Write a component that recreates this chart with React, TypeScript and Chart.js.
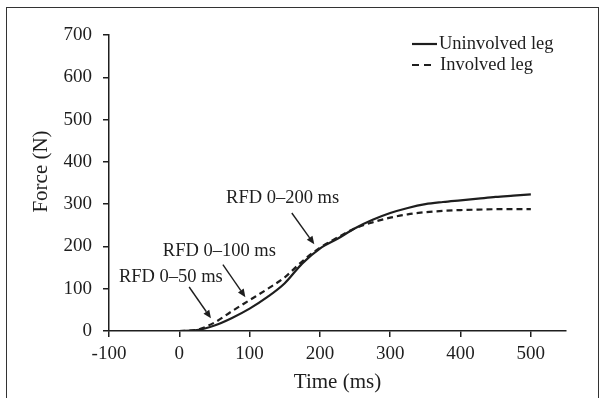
import React, { useEffect, useRef } from "react";
import { Chart, registerables } from "chart.js";

Chart.register(...registerables);

const timeMs = [0, 25, 50, 75, 100, 125, 150, 175, 200, 225, 250, 275, 300, 325, 350, 375, 400, 425, 450, 475, 500];
const uninvolvedLeg = [0, 2, 13, 31, 53, 80, 113, 160, 195, 218, 243, 263, 279, 291, 300, 305, 309, 313, 317, 320, 323];
const involvedLeg = [0, 3, 20, 47, 73, 99, 127, 165, 197, 221, 243, 257, 268, 276, 281, 284, 286, 287, 288, 288, 288];

const seriesNames = ["Uninvolved leg", "Involved leg"];

const annotationLabels = ["RFD 0–50 ms", "RFD 0–100 ms", "RFD 0–200 ms"];
const annotationTextAt = [[-12, 128], [57, 190], [147, 314]];
const arrowFrom = [[14, 104], [62, 157], [160, 279]];
const arrowTo = [[45, 30], [94, 80], [192, 205]];

const xTitle = "Time (ms)";
const yTitle = "Force (N)";

const SERIF = "'Liberation Serif', 'Times New Roman', Times, serif";
const INK = "#1e1e1e";

const overlayPlugin = {
  id: "overlay",
  afterDatasetsDraw(chart: any) {
    const { ctx, scales } = chart;
    const xs = scales.x;
    const ys = scales.y;
    ctx.save();
    ctx.fillStyle = INK;
    ctx.strokeStyle = INK;

    // annotations + arrows
    ctx.font = `18.5px ${SERIF}`;
    ctx.textAlign = "center";
    ctx.textBaseline = "middle";
    annotationLabels.forEach((label, i) => {
      const tx = xs.getPixelForValue(annotationTextAt[i][0]);
      const ty = ys.getPixelForValue(annotationTextAt[i][1]);
      ctx.fillText(label, tx, ty);
      const x1 = xs.getPixelForValue(arrowFrom[i][0]);
      const y1 = ys.getPixelForValue(arrowFrom[i][1]);
      const x2 = xs.getPixelForValue(arrowTo[i][0]);
      const y2 = ys.getPixelForValue(arrowTo[i][1]);
      const ang = Math.atan2(y2 - y1, x2 - x1);
      const headLen = 8;
      const headW = 3.5;
      const bx = x2 - headLen * Math.cos(ang);
      const by = y2 - headLen * Math.sin(ang);
      ctx.lineWidth = 1.4;
      ctx.setLineDash([]);
      ctx.beginPath();
      ctx.moveTo(x1, y1);
      ctx.lineTo(bx, by);
      ctx.stroke();
      ctx.beginPath();
      ctx.moveTo(x2, y2);
      ctx.lineTo(bx + headW * Math.sin(ang), by - headW * Math.cos(ang));
      ctx.lineTo(bx - headW * Math.sin(ang), by + headW * Math.cos(ang));
      ctx.closePath();
      ctx.fill();
    });

    // legend
    const lx = 412;
    const rows = [44, 65];
    ctx.textAlign = "left";
    chart.data.datasets.forEach((ds: any, i: number) => {
      ctx.lineWidth = 2.2;
      ctx.setLineDash(i === 0 ? [] : [7, 5]);
      ctx.beginPath();
      ctx.moveTo(lx, rows[i]);
      ctx.lineTo(lx + (i === 0 ? 25 : 20), rows[i]);
      ctx.stroke();
      ctx.setLineDash([]);
      ctx.fillText(ds.label, lx + (i === 0 ? 27 : 28), rows[i]);
    });

    // y title
    ctx.font = `21px ${SERIF}`;
    ctx.textAlign = "center";
    ctx.translate(41.5, 171.5);
    ctx.rotate(-Math.PI / 2);
    ctx.fillText(yTitle, 0, 0);
    ctx.restore();
  },
};

export default function App() {
  const canvasRef = useRef<HTMLCanvasElement | null>(null);

  useEffect(() => {
    if (!canvasRef.current) return;
    const chart = new Chart(canvasRef.current, {
      type: "line",
      data: {
        datasets: [
          {
            label: seriesNames[0],
            data: timeMs.map((t, i) => ({ x: t, y: uninvolvedLeg[i] })),
            borderColor: INK,
            borderWidth: 2.2,
            pointRadius: 0,
            cubicInterpolationMode: "monotone",
            fill: false,
          },
          {
            label: seriesNames[1],
            data: timeMs.map((t, i) => ({ x: t, y: involvedLeg[i] })),
            borderColor: INK,
            borderWidth: 2.2,
            borderDash: [6, 4],
            pointRadius: 0,
            cubicInterpolationMode: "monotone",
            fill: false,
          },
        ],
      },
      options: {
        responsive: false,
        animation: false,
        layout: { padding: { top: 35, right: 40, left: 0, bottom: 3 } },
        plugins: {
          legend: { display: false },
          tooltip: { enabled: false },
        },
        scales: {
          x: {
            type: "linear",
            min: -100,
            max: 550,
            afterFit: (s: any) => {
              s.height = 64;
            },
            ticks: {
              stepSize: 100,
              includeBounds: false,
              color: INK,
              padding: 6,
              maxRotation: 0,
              font: { family: SERIF, size: 19 },
            },
            grid: { drawOnChartArea: false, drawTicks: true, tickLength: 6, color: INK, lineWidth: 1.5 },
            border: { display: true, color: INK, width: 1.5 },
            title: {
              display: true,
              text: xTitle,
              color: INK,
              padding: { top: 0, bottom: 0 },
              font: { family: SERIF, size: 21 },
            },
          },
          y: {
            type: "linear",
            min: 0,
            max: 700,
            afterFit: (s: any) => {
              s.width = 109;
            },
            ticks: {
              stepSize: 100,
              color: INK,
              padding: 11,
              font: { family: SERIF, size: 19 },
            },
            grid: { drawOnChartArea: false, drawTicks: true, tickLength: 6, color: INK, lineWidth: 1.5 },
            border: { display: true, color: INK, width: 1.5 },
          },
        },
      },
      plugins: [overlayPlugin],
    } as any);
    return () => chart.destroy();
  }, []);

  return (
    <div style={{ position: "fixed", left: 0, top: 0, width: 606, height: 398, background: "#fff", overflow: "hidden" }}>
      <div
        style={{
          position: "absolute",
          left: 6,
          top: 7,
          width: 593,
          height: 420,
          border: "1px solid #333",
          boxSizing: "border-box",
        }}
      />
      <canvas ref={canvasRef} width={606} height={398} style={{ position: "absolute", left: 0, top: 0 }} />
    </div>
  );
}
